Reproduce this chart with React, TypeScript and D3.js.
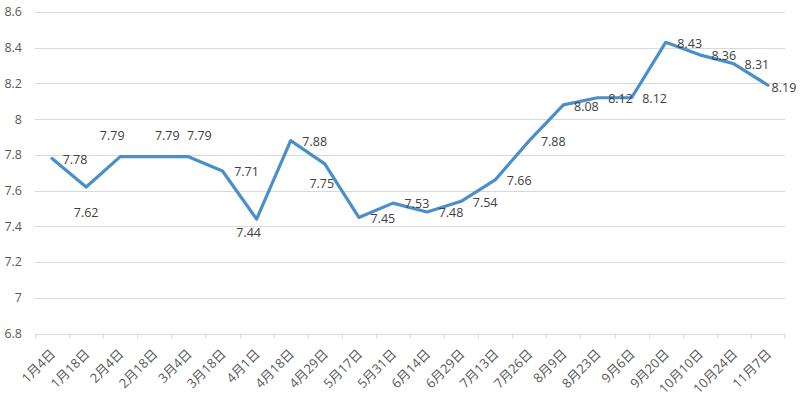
import * as d3 from "d3";

// 日期（类别）
const dates = [
  "1月4日", "1月18日", "2月4日", "2月18日", "3月4日", "3月18日", "4月1日", "4月18日",
  "4月29日", "5月17日", "5月31日", "6月14日", "6月29日", "7月13日", "7月26日", "8月9日",
  "8月23日", "9月6日", "9月20日", "10月10日", "10月24日", "11月7日",
];

// 数值
const values = [
  7.78, 7.62, 7.79, 7.79, 7.79, 7.71, 7.44, 7.88, 7.75, 7.45, 7.53,
  7.48, 7.54, 7.66, 7.88, 8.08, 8.12, 8.12, 8.43, 8.36, 8.31, 8.19,
];

const yTicks = [6.8, 7, 7.2, 7.4, 7.6, 7.8, 8, 8.2, 8.4, 8.6];

// 数据标签相对点的偏移 (像素)
const labelShift: [number, number][] = [
  [23, 1], [0, 26], [-8, -21], [13, -21], [11, -21], [24, 1], [-8, 13], [24, 1],
  [-3, 20], [24, 1], [24, 1], [24, 1], [24, 1], [24, 1], [24, 1], [23, 2],
  [23, 1], [23, 1], [24, 1], [24, 1], [23, 1], [16, 2],
];

const W = 800;
const H = 399;
const margin = { top: 12, right: 15, bottom: 65, left: 35 };
const font = "'Open Sans', 'Noto Sans CJK SC', sans-serif";

export default function App() {
  const x = d3.scaleBand<string>()
    .domain(dates)
    .range([margin.left, W - margin.right])
    .padding(0);

  const y = d3.scaleLinear()
    .domain([6.8, 8.6])
    .range([H - margin.bottom - 0.5, margin.top]);

  const cx = (d: string) => (x(d) ?? 0) + x.bandwidth() / 2;

  const line = d3.line<number>()
    .x((_, i) => cx(dates[i]))
    .y(v => y(v));

  const bottom = y(6.8);

  return (
    <svg width={W} height={H} style={{ position: "absolute", left: 0, top: 0, background: "#fff" }}>
      {/* 网格线 */}
      {yTicks.map(t => (
        <g key={t}>
          <line x1={margin.left} x2={W - margin.right} y1={Math.round(y(t)) + 0.5} y2={Math.round(y(t)) + 0.5}
            stroke="#d9d9d9" strokeWidth={1} />
          <text x={22} y={y(t)} dy="0.35em" textAnchor="end" fontSize={12.5}
            fontFamily={font} fill="#595959">{t}</text>
        </g>
      ))}

      {/* x 轴刻度 */}
      {dates.map(d => (
        <line key={"t" + d} x1={Math.round(x(d) ?? 0) + 0.5} x2={Math.round(x(d) ?? 0) + 0.5}
          y1={bottom} y2={bottom + 5} stroke="#d9d9d9" />
      ))}
      <line x1={W - margin.right - 0.5} x2={W - margin.right - 0.5} y1={bottom} y2={bottom + 5} stroke="#d9d9d9" />

      {dates.map(d => (
        <text key={"l" + d} transform={`translate(${cx(d) + 1},${bottom + 18}) rotate(-45)`}
          textAnchor="end" dy="0.35em" fontSize={13} fontFamily={font} fill="#595959">{d}</text>
      ))}

      <path d={line(values) ?? ""} fill="none" stroke="#4a8fca" strokeWidth={3.2}
        strokeLinejoin="round" strokeLinecap="round" />

      {/* 数据标签 */}
      {values.map((v, i) => (
        <text key={"v" + i} x={cx(dates[i]) + labelShift[i][0]} y={y(v) + labelShift[i][1]}
          dy="0.35em" textAnchor="middle" fontSize={12.5} fontFamily={font} fill="#404040">
          {v.toFixed(2)}
        </text>
      ))}
    </svg>
  );
}
